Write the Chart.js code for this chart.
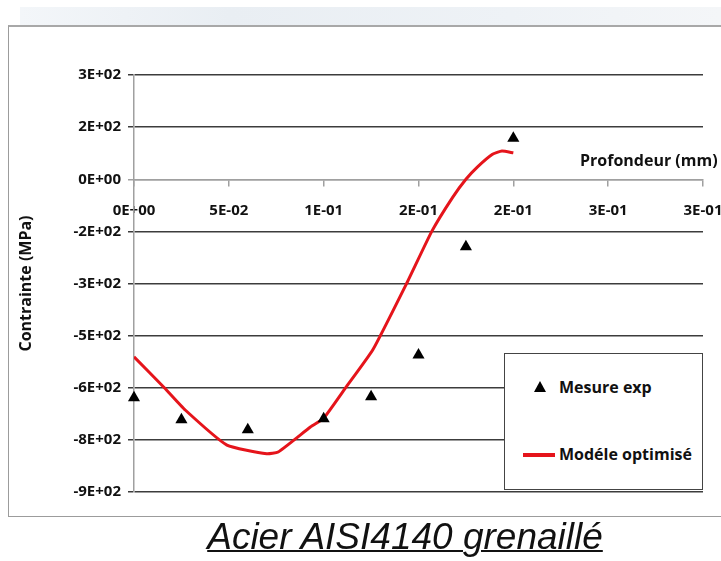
<!DOCTYPE html>
<html>
<head>
<meta charset="utf-8">
<script src="https://cdn.jsdelivr.net/npm/chart.js@4"></script>
<style>
  html, body { margin: 0; padding: 0; background: #fff; }
  body { width: 721px; height: 561px; position: relative; overflow: hidden; font-family: "Open Sans", sans-serif; }
  #band { position: absolute; left: 20px; top: 7px; width: 701px; height: 18px;
          background: linear-gradient(to right, #f3f6f9, #e9eef3 30%, #eef2f6 70%, #f4f6f8); }
  #frame { position: absolute; left: 8px; top: 25px; width: 760px; height: 489px;
           border: 1px solid #9c9c9c; border-top: 2px solid #a8a8a8; background: #fff; }
  #chart { position: absolute; left: 0; top: 0; }
  #xtitle { position: absolute; left: 580px; top: 149px; font: bold 16px "Open Sans"; color: #111; white-space: nowrap; }
  #legend { position: absolute; left: 504px; top: 353px; width: 197px; height: 135px;
            border: 1.5px solid #444; background: #fff; }
  .item { position: absolute; left: 54px; font: bold 16px "Open Sans"; color: #111; white-space: nowrap; }
  #tri { position: absolute; left: 29px; top: 27px; width: 0; height: 0;
         border-left: 6px solid transparent; border-right: 6px solid transparent; border-bottom: 11px solid #000; }
  #redline { position: absolute; left: 18px; top: 99px; width: 32px; height: 4px; background: #e5141b; }
  #title { position: absolute; left: 0; width: 810px; text-align: center; top: 519px;
           font: italic 37px "Liberation Sans", Arial, sans-serif; line-height: 36px; color: #111; text-decoration: underline; text-decoration-thickness: 2px; }
</style>
</head>
<body>
<div id="band"></div>
<div id="frame"></div>
<canvas id="chart" width="721" height="561"></canvas>
<div id="xtitle">Profondeur (mm)</div>
<div id="legend">
  <div id="tri"></div>
  <div class="item" style="top: 22px;">Mesure exp</div>
  <div id="redline"></div>
  <div class="item" style="top: 89px;">Modéle optimisé</div>
</div>
<div id="title">Acier AISI4140 grenaillé</div>
<script>
    // Mesures expérimentales (profondeur en mm, contrainte en MPa)
    const measX = [0, 0.025, 0.06, 0.1, 0.125, 0.15, 0.175, 0.2];
    const measY = [-629, -692, -721, -689, -626, -506, -194, 118];

    // Modèle optimisé
    const modelX = [0, 0.016, 0.027, 0.049, 0.07, 0.076, 0.093, 0.1, 0.112, 0.126, 0.144, 0.157, 0.168, 0.175, 0.181, 0.189, 0.194, 0.2];
    const modelY = [-511, -600, -664, -765, -790, -785, -713, -688, -597, -490, -297, -150, -52, 0, 35, 72, 81, 76];

    // Libellés des graduations (format Excel arrondi)
    const xTickLabels = ["0E+00", "5E-02", "1E-01", "2E-01", "2E-01", "3E-01", "3E-01"];
    const yTickLabels = ["-9E+02", "-8E+02", "-6E+02", "-5E+02", "-3E+02", "-2E+02", "0E+00", "2E+02", "3E+02"];

    const tickFont = { family: "Open Sans", size: 15, weight: "bold" };

    new Chart(document.getElementById("chart"), {
      data: {
        datasets: [{
          type: 'scatter',
          label: 'Mesure exp',
          data: measX.map((x, i) => ({ x: x, y: measY[i] })),
          pointStyle: 'triangle',
          pointRadius: 7,
          backgroundColor: '#000',
          borderColor: '#000',
          borderWidth: 0,
          clip: false
        }, {
          type: 'line',
          label: 'Modéle optimisé',
          data: modelX.map((x, i) => ({ x: x, y: modelY[i] })),
          borderColor: '#e5141b',
          borderWidth: 3,
          pointRadius: 0,
          tension: 0.15,
          fill: false
        }]
      },
      options: {
        responsive: false,
        animation: false,
        layout: { padding: { left: 0, top: 75, right: 18, bottom: 69 } },
        plugins: { legend: { display: false }, tooltip: { enabled: false } },
        scales: {
          x: {
            type: 'linear',
            position: { y: 0 },
            min: 0,
            max: 0.3,
            ticks: {
              stepSize: 0.05,
              font: tickFont,
              color: '#111',
              padding: 16,
              maxRotation: 0,
              callback: (v, i) => xTickLabels[i]
            },
            grid: { drawOnChartArea: false, tickLength: 6, color: '#a0a0a0', lineWidth: 1.5 },
            border: { color: '#a0a0a0', width: 1.5 },
            afterFit: scale => { scale.paddingLeft = 0; scale.paddingRight = 0; }
          },
          y: {
            min: -900,
            max: 300,
            ticks: {
              stepSize: 150,
              font: tickFont,
              color: '#111',
              padding: 7,
              callback: (v, i) => yTickLabels[i]
            },
            grid: {
              tickLength: 6,
              lineWidth: 1.5,
              color: ctx => ctx.tick && ctx.tick.value === 0 ? '#a0a0a0' : '#3c3c3c'
            },
            border: { color: '#a0a0a0', width: 1.5 },
            title: {
              display: true,
              text: 'Contrainte (MPa)',
              font: { family: "Open Sans", size: 16, weight: "bold" },
              color: '#111',
              padding: { top: 17, bottom: 0 }
            },
            afterFit: scale => { scale.width = 134; }
          }
        }
      }
    });
</script>
</body>
</html>
